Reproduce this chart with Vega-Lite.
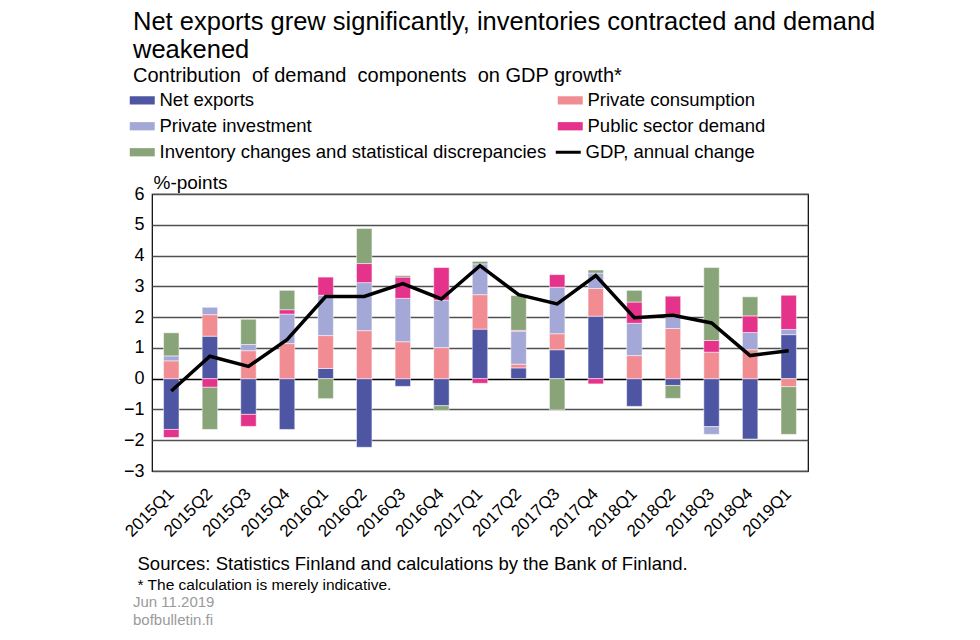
{
  "$schema": "https://vega.github.io/schema/vega-lite/v6.json",
  "width": 656,
  "height": 277,
  "autosize": {"type": "none"},
  "padding": {"left": 152, "top": 194, "right": 172, "bottom": 169},
  "background": "white",
  "config": {
    "font": "Liberation Sans",
    "view": {"stroke": "black", "strokeWidth": 1.2},
    "axis": {"labelFont": "Liberation Sans", "titleFont": "Liberation Sans", "labelColor": "black", "titleColor": "black", "titleFontWeight": "normal"},
    "legend": {"labelFont": "Liberation Sans", "titleFont": "Liberation Sans", "labelColor": "black", "labelFontSize": 18.5, "labelLimit": 600}
  },
  "title": {
    "text": ["Net exports grew significantly, inventories contracted and demand", "weakened"],
    "subtitle": "Contribution\u00a0 of demand\u00a0 components\u00a0 on GDP growth*",
    "anchor": "start",
    "frame": "group",
    "dx": -19,
    "offset": 5,
    "font": "Liberation Sans",
    "fontSize": 25.5,
    "fontWeight": "normal",
    "lineHeight": 28,
    "color": "black",
    "subtitleFont": "Liberation Sans",
    "subtitleFontSize": 20,
    "subtitleColor": "black",
    "subtitlePadding": 3,
    "subtitleLineHeight": 21
  },
  "data": {
    "values": [
      {"quarter": "2015Q1", "Net exports": -1.65, "Private consumption": 0.58, "Private investment": 0.16, "Public sector demand": -0.26, "Inventory changes and statistical discrepancies": 0.75, "GDP": -0.40},
      {"quarter": "2015Q2", "Net exports": 1.38, "Private consumption": 0.70, "Private investment": 0.24, "Public sector demand": -0.28, "Inventory changes and statistical discrepancies": -1.37, "GDP": 0.73},
      {"quarter": "2015Q3", "Net exports": -1.16, "Private consumption": 0.91, "Private investment": 0.20, "Public sector demand": -0.39, "Inventory changes and statistical discrepancies": 0.82, "GDP": 0.40},
      {"quarter": "2015Q4", "Net exports": -1.65, "Private consumption": 1.14, "Private investment": 0.96, "Public sector demand": 0.14, "Inventory changes and statistical discrepancies": 0.63, "GDP": 1.27},
      {"quarter": "2016Q1", "Net exports": 0.33, "Private consumption": 1.07, "Private investment": 1.31, "Public sector demand": 0.59, "Inventory changes and statistical discrepancies": -0.65, "GDP": 2.67},
      {"quarter": "2016Q2", "Net exports": -2.23, "Private consumption": 1.56, "Private investment": 1.56, "Public sector demand": 0.62, "Inventory changes and statistical discrepancies": 1.14, "GDP": 2.67},
      {"quarter": "2016Q3", "Net exports": -0.25, "Private consumption": 1.20, "Private investment": 1.41, "Public sector demand": 0.69, "Inventory changes and statistical discrepancies": 0.05, "GDP": 3.09},
      {"quarter": "2016Q4", "Net exports": -0.88, "Private consumption": 1.01, "Private investment": 1.54, "Public sector demand": 1.06, "Inventory changes and statistical discrepancies": -0.15, "GDP": 2.59},
      {"quarter": "2017Q1", "Net exports": 1.61, "Private consumption": 1.12, "Private investment": 1.00, "Public sector demand": -0.15, "Inventory changes and statistical discrepancies": 0.08, "GDP": 3.67},
      {"quarter": "2017Q2", "Net exports": 0.35, "Private consumption": 0.12, "Private investment": 1.07, "Public sector demand": 0.03, "Inventory changes and statistical discrepancies": 1.13, "GDP": 2.73},
      {"quarter": "2017Q3", "Net exports": 0.94, "Private consumption": 0.52, "Private investment": 1.51, "Public sector demand": 0.41, "Inventory changes and statistical discrepancies": -1.01, "GDP": 2.43},
      {"quarter": "2017Q4", "Net exports": 2.03, "Private consumption": 0.90, "Private investment": 0.50, "Public sector demand": -0.17, "Inventory changes and statistical discrepancies": 0.10, "GDP": 3.35},
      {"quarter": "2018Q1", "Net exports": -0.90, "Private consumption": 0.75, "Private investment": 1.05, "Public sector demand": 0.69, "Inventory changes and statistical discrepancies": 0.38, "GDP": 1.98},
      {"quarter": "2018Q2", "Net exports": -0.22, "Private consumption": 1.63, "Private investment": 0.36, "Public sector demand": 0.69, "Inventory changes and statistical discrepancies": -0.42, "GDP": 2.06},
      {"quarter": "2018Q3", "Net exports": -1.56, "Private consumption": 0.86, "Private investment": -0.25, "Public sector demand": 0.38, "Inventory changes and statistical discrepancies": 2.37, "GDP": 1.81},
      {"quarter": "2018Q4", "Net exports": -1.96, "Private consumption": 0.94, "Private investment": 0.56, "Public sector demand": 0.54, "Inventory changes and statistical discrepancies": 0.62, "GDP": 0.75},
      {"quarter": "2019Q1", "Net exports": 1.43, "Private consumption": -0.26, "Private investment": 0.17, "Public sector demand": 1.11, "Inventory changes and statistical discrepancies": -1.55, "GDP": 0.91}
    ]
  },
  "layer": [
    {
      "transform": [
        {"fold": ["Net exports", "Private consumption", "Private investment", "Public sector demand", "Inventory changes and statistical discrepancies"], "as": ["component", "value"]},
        {"window": [{"op": "row_number", "as": "stack_idx"}], "groupby": ["quarter"]}
      ],
      "mark": {"type": "bar", "stroke": "white", "strokeWidth": 0.5},
      "encoding": {
        "x": {
          "field": "quarter", "type": "nominal", "sort": null,
          "scale": {"paddingInner": 0.6, "paddingOuter": 0.3},
          "axis": {
            "labelAngle": -45, "labelAlign": "right", "labelBaseline": "middle", "labelFontSize": 17, "ticks": false, "domain": false, "labelPadding": 20,
            "title": "Sources: Statistics Finland and calculations by the Bank of Finland.",
            "titleX": -15, "titleY": 92, "titleAnchor": "start", "titleAlign": "left", "titleBaseline": "middle", "titleFontSize": 18.5
          }
        },
        "y": {
          "field": "value", "type": "quantitative", "stack": "zero",
          "scale": {"domain": [-3, 6], "nice": false},
          "axis": {
            "values": [-3, -2, -1, 0, 1, 2, 3, 4, 5, 6], "labelFontSize": 18, "ticks": false, "domain": false, "labelPadding": 8,
            "gridColor": {"condition": {"test": "datum.value === 0", "value": "black"}, "value": "#505050"},
            "gridWidth": 1.3,
            "title": "%-points", "titleAngle": 0, "titleAlign": "left", "titleBaseline": "middle", "titleX": 1, "titleY": -12, "titleFontSize": 19
          }
        },
        "color": {
          "field": "component", "type": "nominal",
          "scale": {
            "domain": ["Net exports", "Private investment", "Inventory changes and statistical discrepancies", "Private consumption", "Public sector demand"],
            "range": ["#4e55a3", "#a4a8d6", "#8aa47a", "#f28c93", "#e5328b"]
          },
          "legend": {
            "orient": "none", "legendX": -19, "legendY": -103, "columns": 2, "columnPadding": 10, "rowPadding": 7,
            "labelOffset": 8,
            "symbolType": "M-2,-0.66H2V0.66H-2Z", "symbolSize": 156, "symbolStrokeWidth": 0,
            "title": ["Jun 11.2019", "bofbulletin.fi"], "titleOrient": "bottom", "titleAnchor": "start",
            "titleFontSize": 15, "titleFontWeight": "normal", "titleColor": "#9a9a9a", "titlePadding": 433, "titleLineHeight": 18
          }
        },
        "order": {"field": "stack_idx", "type": "quantitative", "sort": "ascending"}
      }
    },
    {
      "mark": {"type": "line", "strokeWidth": 3.5},
      "encoding": {
        "x": {"field": "quarter", "type": "nominal", "sort": null},
        "y": {
          "field": "GDP", "type": "quantitative",
          "scale": {"domain": [-3, 6], "nice": false},
          "axis": {
            "orient": "right", "labels": false, "ticks": false, "domain": false, "grid": false,
            "title": "* The calculation is merely indicative.", "titleAngle": 0, "titleAlign": "left", "titleBaseline": "middle",
            "titleX": -671, "titleY": 390, "titleFontSize": 15.5
          }
        },
        "stroke": {
          "datum": "GDP, annual change",
          "scale": {"domain": ["GDP, annual change"], "range": ["black"]},
          "legend": {
            "orient": "none", "legendX": 407, "legendY": -51, "title": null,
            "labelOffset": 8,
            "symbolType": "M-2,0H2", "symbolSize": 156, "symbolStrokeWidth": 3, "symbolStrokeColor": "black"
          }
        }
      }
    }
  ],
  "resolve": {"scale": {"y": "independent"}}
}
